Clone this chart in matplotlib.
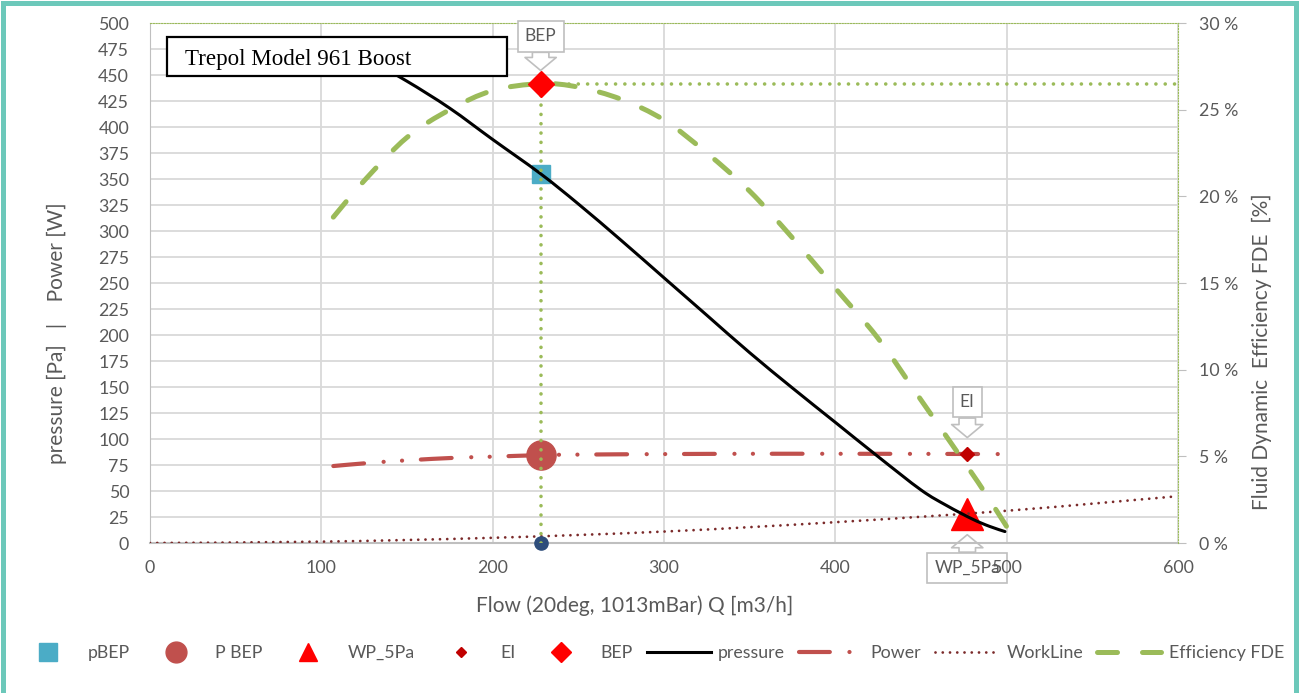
import matplotlib
matplotlib.use("Agg")
import numpy as np
import matplotlib.pyplot as plt
from matplotlib.lines import Line2D
from matplotlib.patches import Rectangle, PathPatch
from matplotlib.path import Path
from matplotlib.ticker import MultipleLocator, FuncFormatter

plt.rcParams['font.family'] = ['Lato', 'DejaVu Sans']

# fan curve data, flow in m3/h
pressure_q = [110, 130, 150, 175, 200, 228, 250, 275, 300, 325, 350, 375, 400, 425, 450, 465, 480, 490, 499]
pressure_pa = [478, 462, 444, 418, 388, 355, 326, 291, 255, 219, 183, 149, 116, 83, 51, 36, 23, 16, 11]

power_q = [107, 128, 150, 179, 200, 228, 250, 300, 350, 400, 450, 477, 498]
power_w = [74, 77, 79.5, 82, 83, 84.5, 85, 85.5, 85.8, 85.8, 85.7, 85.6, 85.5]

work_q = [0, 100, 200, 300, 400, 500, 600]
work_pa = [0, 1.3, 5, 11, 20, 31, 45]

eff_q = [107, 125, 150, 175, 200, 228, 250, 275, 300, 325, 350, 375, 400, 425, 450, 475, 490, 506]
eff_pct = [18.8, 20.9, 23.4, 25.0, 26.1, 26.5, 26.3, 25.6, 24.4, 22.5, 20.3, 17.6, 14.7, 11.8, 8.25, 4.7, 2.5, 0]

# operating points
bep_q, bep_eff = 228, 26.5
pbep_pa = 355
power_bep_w = 84.5
wp_q, wp_pa = 477, 28
ei_q, ei_w = 477, 86

GREY = '#595959'
GRID = '#D9D9D9'
GREEN = '#9BBB59'
RED = '#C0504D'
WORK = '#7B2A2A'

POWER_DASH = (7.4, 4.7, 0.03, 4.4, 0.03, 4.5)
EFF_DASH = (4, 5)
WORK_DASH = (0.01, 2.6)


def smooth_curve(axis, xs, ys, **kw):
    # smoothed line through the points (Catmull-Rom segments as cubic Beziers)
    pts = np.column_stack([xs, ys]).astype(float)
    n = len(pts)
    verts, codes = [pts[0]], [Path.MOVETO]
    for i in range(n - 1):
        p0 = pts[i - 1] if i > 0 else pts[i]
        p1, p2 = pts[i], pts[i + 1]
        p3 = pts[i + 2] if i + 2 < n else pts[i + 1]
        verts += [p1 + (p2 - p0) / 6, p2 - (p3 - p1) / 6, p2]
        codes += [Path.CURVE4] * 3
    patch = PathPatch(Path(verts, codes), fill=False, capstyle='round', joinstyle='round', **kw)
    axis.add_patch(patch)
    return patch


W, H = 1299, 693
fig = plt.figure(figsize=(W / 100, H / 100), dpi=100)
ax = fig.add_axes([150 / W, 1 - 543 / H, (1178 - 150) / W, (543 - 23) / H])
ax2 = ax.twinx()

# left axis: pressure / power
ax.set_xlim(0, 600)
ax.set_ylim(0, 500)
ax.xaxis.set_major_locator(MultipleLocator(100))
ax.yaxis.set_major_locator(MultipleLocator(25))
ax.set_axisbelow(True)
ax.grid(True, color=GRID, lw=1.3)
ax.tick_params(axis='both', length=0, labelsize=12.8, labelcolor=GREY)
ax.tick_params(axis='x', pad=12)
ax.tick_params(axis='y', pad=15)
for s in ('top', 'right'):
    ax.spines[s].set_visible(False)
ax.spines['left'].set_color('#BFBFBF')
ax.spines['bottom'].set_color('#BFBFBF')
ax.spines['bottom'].set_linewidth(1.5)

# right axis: efficiency
ax2.set_ylim(0, 30)
ax2.yaxis.set_major_locator(MultipleLocator(5))
ax2.yaxis.set_major_formatter(FuncFormatter(lambda v, p: f'{v:.0f} %'))
ax2.tick_params(axis='y', length=6, color='#BFBFBF', labelsize=12.8, labelcolor=GREY, pad=9)
for s in ('left', 'bottom'):
    ax2.spines[s].set_visible(False)
for s in ('top', 'right'):
    ax2.spines[s].set_color(GREEN)
    ax2.spines[s].set_linestyle((0, (1, 1.5)))
    ax2.spines[s].set_linewidth(0.8)

# curves on the left axis
smooth_curve(ax, work_q, work_pa, ec=WORK, lw=2.0, linestyle=(0, WORK_DASH), zorder=4)
smooth_curve(ax, power_q, power_w, ec=RED, lw=3, linestyle=(0, POWER_DASH), zorder=3)
smooth_curve(ax, pressure_q, pressure_pa, ec='black', lw=2.2, zorder=4)

ax.plot(bep_q, pbep_pa, 's', ms=13, color='#4BACC6', zorder=2)
ax.plot(bep_q, power_bep_w, 'o', ms=21, color=RED, zorder=3.5)
ax.plot(wp_q, wp_pa, '^', ms=23, color='#FF0000', zorder=2)
ax.plot(ei_q, ei_w, 'D', ms=7.6, color='#C00000', zorder=3.2)
ax.plot(bep_q, 0, 'o', ms=9.5, color='#2E4D7B', zorder=5, clip_on=False)

# efficiency and best efficiency point guides
smooth_curve(ax2, eff_q, eff_pct, ec=GREEN, lw=3.6, linestyle=(0, EFF_DASH), zorder=3)
ax2.plot([bep_q, bep_q], [0, bep_eff], color=GREEN, lw=2.6, dashes=(0.01, 2.57),
         dash_capstyle='round', zorder=2)
ax2.plot([bep_q, 600], [bep_eff, bep_eff], color=GREEN, lw=2.6, dashes=(0.01, 2.57),
         dash_capstyle='round', zorder=2)
ax2.plot(bep_q, bep_eff, 'D', ms=13, color='#FF0000', zorder=5)

# callouts
callout_box = dict(boxstyle='square,pad=0.42', fc='white', ec='#BFBFBF', lw=1.2)


def callout(axis, text, xy, dy, shrink, z=6):
    axis.annotate(text, xy=xy, xytext=(0, dy), textcoords='offset points',
                  ha='center', va='center', fontsize=12.5, color=GREY, bbox=callout_box,
                  annotation_clip=False, zorder=z,
                  arrowprops=dict(arrowstyle='simple,head_length=0.75,head_width=1.8,tail_width=0.95',
                                  fc='white', ec='#BFBFBF', lw=1.2, shrinkA=0, shrinkB=shrink))


callout(ax2, 'BEP', (bep_q, bep_eff), 34, 9.5)
callout(ax, 'EI', (ei_q, ei_w), 37, 11.5)
callout(ax, 'WP_5Pa', (wp_q, wp_pa), -39, 15, z=0.3)

# model name box
fig.patches.append(Rectangle((167 / W, 1 - 76 / H), (507 - 167) / W, 39 / H,
                             transform=fig.transFigure, fc='white', ec='black', lw=1.6, zorder=10))
fig.text(185 / W, 1 - 60 / H, 'Trepol Model 961 Boost', family='Liberation Serif',
         fontsize=16.6, color='black', va='center', ha='left', zorder=11)

# axis titles
fig.text(57 / W, 1 - 333 / H, 'pressure [Pa]   |    Power [W]', rotation=90,
         ha='center', va='center', fontsize=15, color=GREY)
fig.text(1262 / W, 1 - 352 / H, 'Fluid Dynamic  Efficiency FDE  [%]', rotation=90,
         ha='center', va='center', fontsize=15, color=GREY)
fig.text(635 / W, 1 - 606 / H, 'Flow (20deg, 1013mBar) Q [m3/h]',
         ha='center', va='center', fontsize=15, color=GREY)

# legend
handles = [
    Line2D([], [], ls='none', marker='s', ms=13, color='#4BACC6'),
    Line2D([], [], ls='none', marker='o', ms=15, color=RED),
    Line2D([], [], ls='none', marker='^', ms=13.5, color='#FF0000'),
    Line2D([], [], ls='none', marker='D', ms=5.6, color='#C00000'),
    Line2D([], [], ls='none', marker='D', ms=10, color='#FF0000'),
    Line2D([], [], color='black', lw=2.2),
    Line2D([], [], color=RED, lw=3, dashes=POWER_DASH, dash_capstyle='round'),
    Line2D([], [], color=WORK, lw=2.0, dashes=WORK_DASH, dash_capstyle='round'),
    Line2D([], [], color=GREEN, lw=3.6, dashes=EFF_DASH, dash_capstyle='round'),
]
labels = ['pBEP', 'P BEP', 'WP_5Pa', 'EI', 'BEP', 'pressure', 'Power', 'WorkLine', 'Efficiency FDE']
leg = fig.legend(handles, labels, loc='center', bbox_to_anchor=(650 / W, 1 - 653 / H), ncol=9,
                 frameon=False, fontsize=12.8, handlelength=3.6, handletextpad=0.4,
                 columnspacing=0.8, labelcolor=GREY)

# frame around the whole chart
fig.patches.append(Rectangle((2.5 / W, -0.05), 1 - 5.5 / W, 1.05 - 2.5 / H, transform=fig.transFigure,
                             fill=False, ec='#6CC8BA', lw=3.6, zorder=20))

fig.savefig('out.png', dpi=100)
